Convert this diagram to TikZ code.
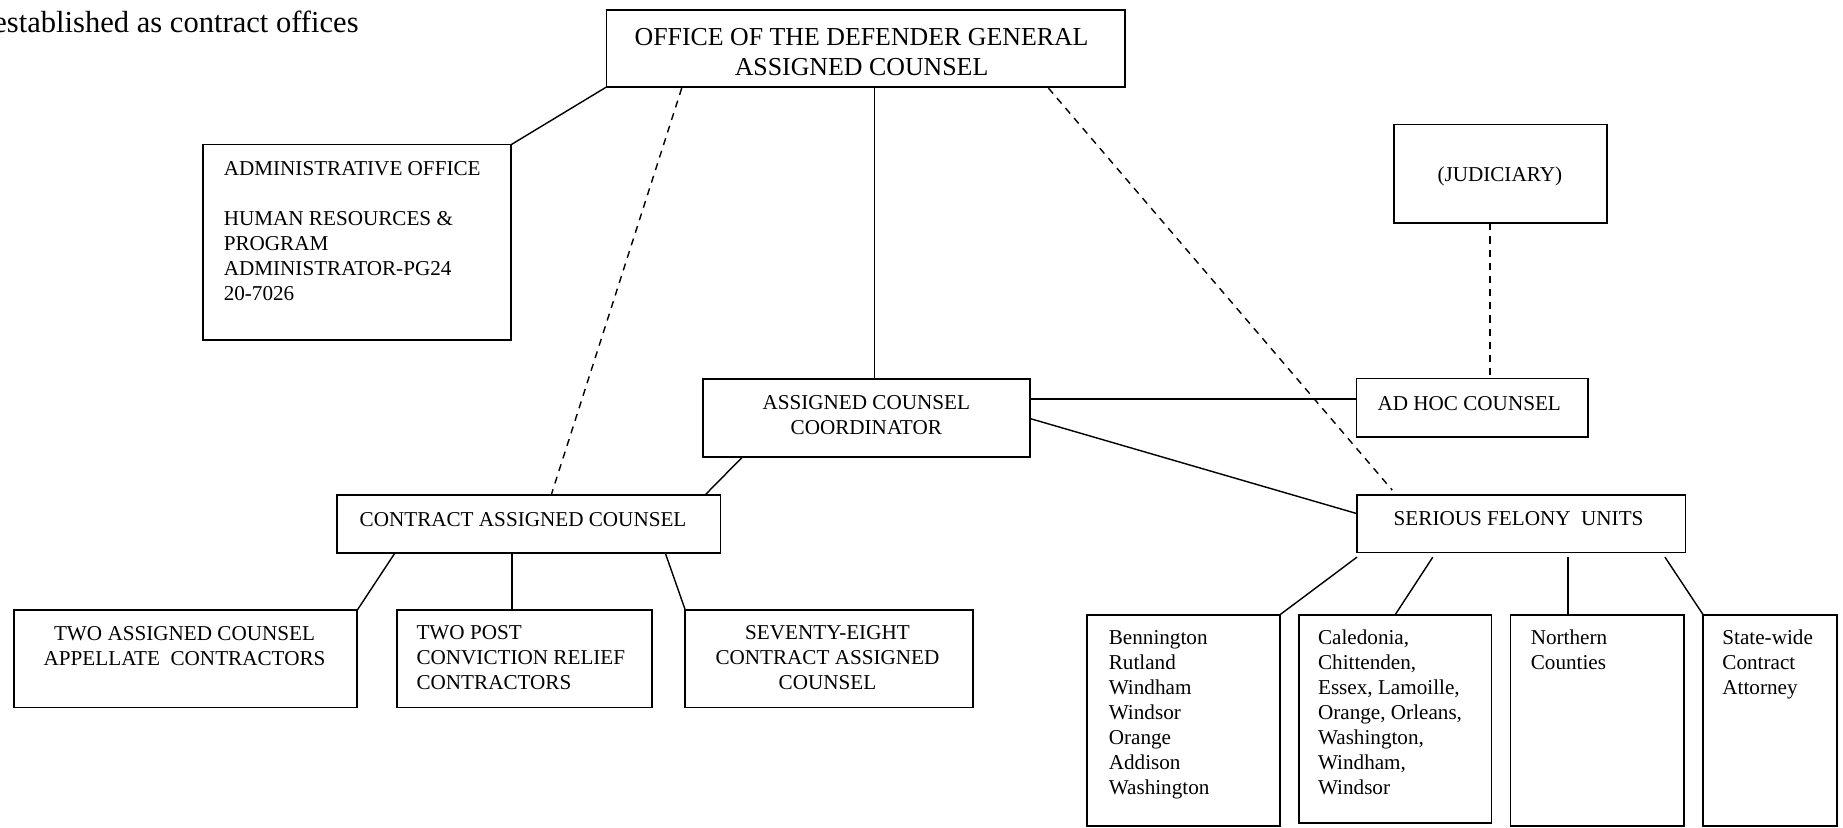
\documentclass[tikz,border=0pt]{standalone}
\usepackage{fontspec}
\setmainfont{Liberation Serif}
\usetikzlibrary{fit,calc}
\tikzset{
  box/.style={draw, line width=0.75pt, inner sep=0pt, outer sep=0pt},
  conn/.style={line width=0.6pt},
  dconn/.style={line width=0.6pt, dash pattern=on 3pt off 2.6pt},
  txt/.style={inner sep=0pt, font=\fontsize{9}{10.65}\selectfont},
  bigtxt/.style={inner sep=0pt, font=\fontsize{11}{12.85}\selectfont},
  captxt/.style={inner sep=0pt, font=\fontsize{13}{15}\selectfont}
}
\begin{document}
\begin{tikzpicture}[x=0.5pt, y=-0.5pt]
\useasboundingbox (0,0) rectangle (1568,704);

% caption
\node[captxt, anchor=base west] (cap) at (-6,28) {established as contract offices};

% boxes
\node[box, fit={(516,8.5) (957,74)}] (odg) {};
\node[box, fit={(173,123) (435,289)}] (admin) {};
\node[box, fit={(1186,106) (1367,190)}] (jud) {};
\node[box, fit={(1154,322) (1351,372)}] (adhoc) {};
\node[box, fit={(598,322.5) (876,388.5)}] (acc) {};
\node[box, fit={(1154.5,421) (1434,470)}] (sfu) {};
\node[box, fit={(287,421) (613,470.5)}] (cac) {};
\node[box, fit={(12,519) (304,602)}] (b1) {};
\node[box, fit={(337.5,519) (555,602)}] (b2) {};
\node[box, fit={(583,519) (827.5,602)}] (b3) {};
\node[box, fit={(925,523) (1089,702.5)}] (fA) {};
\node[box, fit={(1105,523) (1269,700)}] (fB) {};
\node[box, fit={(1285,523) (1433,702.5)}] (fC) {};
\node[box, fit={(1449,523) (1562.6,702.5)}] (fD) {};

% texts (anchor base = baseline of the last line)
\node[bigtxt, anchor=base, align=center] (odgT) at (733,64) {OFFICE OF THE DEFENDER GENERAL\\ASSIGNED COUNSEL};
\node[txt, anchor=base west, align=left] (adminT) at (190,255.5) {ADMINISTRATIVE OFFICE\\[10.65pt]HUMAN RESOURCES \&\\PROGRAM\\ADMINISTRATOR-PG24\\20-7026};
\node[txt, anchor=center] (judT) at (1276,150) {(JUDICIARY)};
\node[txt, anchor=base] (adhocT) at (1250,349) {AD HOC COUNSEL};
\node[txt, anchor=base, align=center] (accT) at (737,370) {ASSIGNED COUNSEL\\COORDINATOR};
\node[txt, anchor=base] (sfuT) at (1292,447) {SERIOUS FELONY\ \ UNITS};
\node[txt, anchor=base] (cacT) at (445,448) {CONTRACT ASSIGNED COUNSEL};
\node[txt, anchor=base, align=center] (b1T) at (157,566) {TWO ASSIGNED COUNSEL\\APPELLATE\ \ CONTRACTORS};
\node[txt, anchor=base west, align=left] (b2T) at (354,587) {TWO POST\\CONVICTION RELIEF\\CONTRACTORS};
\node[txt, anchor=base, align=center] (b3T) at (704,587) {SEVENTY-EIGHT\\CONTRACT ASSIGNED\\COUNSEL};
\node[txt, anchor=base west, align=left] (fAT) at (943,675.8) {Bennington\\Rutland\\Windham\\Windsor\\Orange\\Addison\\Washington};
\node[txt, anchor=base west, align=left] (fBT) at (1121,675.8) {Caledonia,\\Chittenden,\\Essex, Lamoille,\\Orange, Orleans,\\Washington,\\Windham,\\Windsor};
\node[txt, anchor=base west, align=left] (fCT) at (1302,569.3) {Northern\\Counties};
\node[txt, anchor=base west, align=left] (fDT) at (1465,590.6) {State-wide\\Contract\\Attorney};

% connectors
\draw[conn] (odg.south west) -- (admin.north east);
\path ($(odg.south)+(7.5,0)$) coordinate (odgv);
\draw[conn] (odgv) -- (odgv |- acc.north);
\draw[dconn] ($(odg.south west)+(64,1)$) -- ($(cac.north west)+(182,0)$);
\draw[dconn] ($(odg.south west)+(376,1)$) -- ($(sfu.north west)+(30,-4)$);
\path ($(jud.south)+(-9,0)$) coordinate (jd);
\draw[dconn] (jd) -- (jd |- adhoc.north);
\path ($(acc.north east)+(0,17)$) coordinate (ah);
\draw[conn] (ah) -- (ah -| adhoc.west);
\draw[conn] ($(acc.north east)+(0,33.5)$) -- ($(sfu.north west)+(0,16)$);
\draw[conn] ($(acc.south west)+(34,0)$) -- ($(cac.north east)+(-13,0)$);
\draw[conn] ($(cac.south west)+(49,0)$) -- (b1.north east);
\path ($(cac.south west)+(148.6,0)$) coordinate (cv);
\draw[conn] (cv) -- (cv |- b2.north);
\draw[conn] ($(cac.south east)+(-47,0)$) -- (b3.north west);
\draw[conn] ($(sfu.south west)+(0,4)$) -- (fA.north east);
\draw[conn] ($(sfu.south west)+(64.5,4)$) -- (fB.north);
\path ($(sfu.south west)+(179.5,4)$) coordinate (sv);
\draw[conn] (sv) -- (sv |- fC.north);
\draw[conn] ($(sfu.south west)+(262,4)$) -- (fD.north west);
\end{tikzpicture}
\end{document}
